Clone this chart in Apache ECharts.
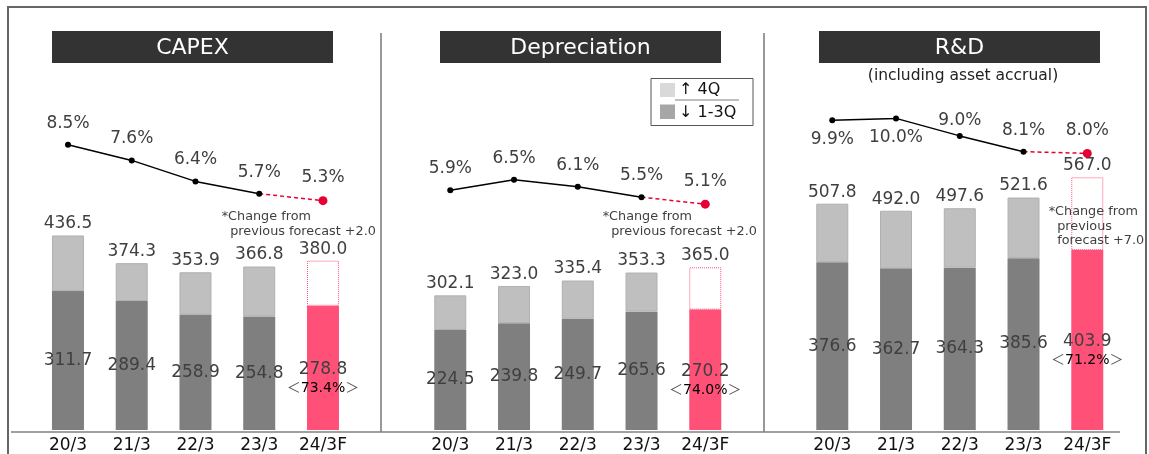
<!DOCTYPE html>
<html>
<head>
<meta charset="utf-8">
<script src="https://cdn.jsdelivr.net/npm/echarts@6/dist/echarts.min.js"></script>
<style>
  html, body { margin: 0; padding: 0; background: #fff; }
  #chart { width: 1149px; height: 454px; }
</style>
</head>
<body>
<div id="chart"></div>
<script>
const categories = ["20/3", "21/3", "22/3", "23/3", "24/3F"];

const capexTotal = [436.5, 374.3, 353.9, 366.8, 380.0];
const capex13 = [311.7, 289.4, 258.9, 254.8, 278.8];
const capexRatio = [8.5, 7.6, 6.4, 5.7, 5.3];

const deprTotal = [302.1, 323.0, 335.4, 353.3, 365.0];
const depr13 = [224.5, 239.8, 249.7, 265.6, 270.2];
const deprRatio = [5.9, 6.5, 6.1, 5.5, 5.1];

const rdTotal = [507.8, 492.0, 497.6, 521.6, 567.0];
const rd13 = [376.6, 362.7, 364.3, 385.6, 403.9];
const rdRatio = [9.9, 10.0, 9.0, 8.1, 8.0];

const progress = ["73.4%", "74.0%", "71.2%"];
const titles = ["CAPEX", "Depreciation", "R&D"];
const notes = [
  ["*Change from", "previous forecast +2.0"],
  ["*Change from", "previous forecast +2.0"],
  ["*Change from", "previous", "forecast +7.0"],
];

const PINK = "#ff5078";
const RED = "#e60033";
const TXT = "#3f3f3f";
const FONT = "DejaVu Sans, Noto Sans CJK JP";

var chart = echarts.init(document.getElementById("chart"));

var panels = [
  { total: capexTotal, q13: capex13, ratio: capexRatio },
  { total: deprTotal, q13: depr13, ratio: deprRatio },
  { total: rdTotal, q13: rd13, ratio: rdRatio },
];
var lefts = [36.1, 418.4, 800.4];

var grids = [], xAxes = [], yAxes = [], series = [];

panels.forEach(function (p, i) {
  var barGrid = grids.length;
  grids.push({ left: lefts[i], width: 318.75, top: 162.6, height: 269.4 });
  grids.push({ left: lefts[i], width: 318.75, top: 118.4, height: 175 });

  xAxes.push({
    type: "category", gridIndex: barGrid, data: categories,
    axisLine: { show: false }, axisTick: { show: false },
    axisLabel: { fontSize: 17, color: "#111", margin: 7, fontFamily: FONT },
  });
  xAxes.push({ type: "category", gridIndex: barGrid + 1, data: categories, show: false });
  yAxes.push({ type: "value", gridIndex: barGrid, min: 0, max: 600, show: false });
  yAxes.push({ type: "value", gridIndex: barGrid + 1, min: 0, max: 10, show: false });

  // 1-3Q part
  var q13Data = p.q13.map(function (v, k) {
    if (k < 4) return v;
    return {
      value: v,
      itemStyle: { color: PINK, borderWidth: 0 },
      label: {
        offset: [0, 11],
        formatter: "{v|" + v.toFixed(1) + "}\n{b|＜}{p|" + progress[i] + "}{b|＞}",
      },
    };
  });
  series.push({
    type: "bar", stack: "s" + i, xAxisIndex: barGrid, yAxisIndex: barGrid,
    barWidth: 32, data: q13Data,
    itemStyle: { color: "#7f7f7f" },
    label: {
      show: true, position: "inside", fontSize: 17, color: TXT,
      formatter: function (d) { return d.value.toFixed(1); },
      rich: {
        v: { fontSize: 17, color: TXT, lineHeight: 19, fontFamily: FONT },
        b: { fontSize: 14, color: "#555", lineHeight: 19, fontFamily: FONT },
        p: { fontSize: 14, color: "#000", lineHeight: 19, fontFamily: FONT },
      },
    },
  });

  // 4Q part, label shows the full year
  var q4Data = p.total.map(function (t, k) {
    var v = +(t - p.q13[k]).toFixed(1);
    if (k < 4) return v;
    return {
      value: v,
      itemStyle: { color: "#fff", borderColor: PINK, borderWidth: 1, borderType: "dotted" },
    };
  });
  series.push({
    type: "bar", stack: "s" + i, xAxisIndex: barGrid, yAxisIndex: barGrid,
    barWidth: 32, data: q4Data,
    itemStyle: { color: "#bfbfbf", borderColor: "#b0b0b0", borderWidth: 1 },
    label: {
      show: true, position: "top", distance: 3, fontSize: 17, color: TXT,
      formatter: function (d) { return p.total[d.dataIndex].toFixed(1); },
    },
  });

  // ratio line
  var solid = p.ratio.map(function (v, k) {
    if (k === 4) return "-";
    if (i === 2 && k < 2) return { value: v, label: { position: "bottom", distance: 8 } };
    if (i === 2 && k === 2) return { value: v, label: { distance: 4 } };
    return v;
  });
  series.push({
    type: "line", xAxisIndex: barGrid + 1, yAxisIndex: barGrid + 1,
    data: solid, symbol: "circle", symbolSize: 6,
    itemStyle: { color: "#000" }, lineStyle: { color: "#000", width: 1.5 },
    label: {
      show: true, position: "top", distance: 10, fontSize: 17, color: TXT,
      formatter: function (d) { return d.value.toFixed(1) + "%"; },
    },
    z: 5,
  });
  var dashed = p.ratio.map(function (v, k) {
    if (k < 3) return "-";
    if (k === 3) return { value: v, symbol: "none", label: { show: false } };
    return { value: v, symbolSize: 9 };
  });
  series.push({
    type: "line", xAxisIndex: barGrid + 1, yAxisIndex: barGrid + 1,
    data: dashed, symbol: "circle",
    itemStyle: { color: RED }, lineStyle: { color: RED, width: 1.5, type: [4, 3] },
    label: {
      show: true, position: "top", distance: 10, fontSize: 17, color: TXT,
      formatter: function (d) { return d.value.toFixed(1) + "%"; },
    },
    z: 4,
  });
});

// frame, dividers, titles, legend, notes
var graphic = [
  { type: "rect", shape: { x: 8, y: 7, width: 1138, height: 470 },
    style: { fill: "none", stroke: "#666", lineWidth: 2 }, silent: true },
  { type: "line", shape: { x1: 381, y1: 33, x2: 381, y2: 432 }, style: { stroke: "#999", lineWidth: 2 } },
  { type: "line", shape: { x1: 764, y1: 33, x2: 764, y2: 432 }, style: { stroke: "#999", lineWidth: 2 } },
  { type: "line", shape: { x1: 11, y1: 432, x2: 1120, y2: 432 }, style: { stroke: "#808080", lineWidth: 1.5 } },
];
var boxX = [52, 440, 819];
titles.forEach(function (t, i) {
  graphic.push({ type: "rect", shape: { x: boxX[i], y: 31, width: 281, height: 32 }, style: { fill: "#333" } });
  graphic.push({ type: "text", style: {
    text: t, x: boxX[i] + 140.5, y: 48, align: "center", verticalAlign: "middle",
    fill: "#fff", fontSize: 22, fontFamily: FONT } });
});
graphic.push({ type: "text", style: {
  text: "(including asset accrual)", x: 963, y: 76, align: "center", verticalAlign: "middle",
  fill: "#222", fontSize: 15.5, fontFamily: FONT } });

// legend box
graphic.push({ type: "rect", shape: { x: 651, y: 78.5, width: 102, height: 47 },
  style: { fill: "#fff", stroke: "#555", lineWidth: 1 } });
graphic.push({ type: "rect", shape: { x: 660, y: 83, width: 15, height: 14 }, style: { fill: "#d9d9d9" } });
graphic.push({ type: "rect", shape: { x: 660, y: 104.5, width: 15, height: 14.5 }, style: { fill: "#a6a6a6" } });
graphic.push({ type: "line", shape: { x1: 675, y1: 100, x2: 739, y2: 100 }, style: { stroke: "#bfbfbf", lineWidth: 2 } });
graphic.push({ type: "text", style: { text: "↑ 4Q", x: 679, y: 89.5, verticalAlign: "middle",
  fill: "#111", fontSize: 16, fontFamily: FONT } });
graphic.push({ type: "text", style: { text: "↓ 1-3Q", x: 679, y: 113, verticalAlign: "middle",
  fill: "#111", fontSize: 16, fontFamily: FONT } });

var noteX = [221.7, 602.7, 1048.7];
var noteY = [216.5, 216.5, 212];
notes.forEach(function (lines, i) {
  lines.forEach(function (s, k) {
    graphic.push({ type: "text", z: 100, style: {
      text: s, x: noteX[i] + (k > 0 ? 8.5 : 0), y: noteY[i] + k * (i === 2 ? 14.5 : 15.5),
      verticalAlign: "middle", fill: TXT, fontSize: 12.8, fontFamily: FONT } });
  });
});

chart.setOption({
  animation: false,
  textStyle: { fontFamily: FONT },
  grid: grids,
  xAxis: xAxes,
  yAxis: yAxes,
  series: series,
  graphic: graphic,
});
</script>
</body>
</html>
